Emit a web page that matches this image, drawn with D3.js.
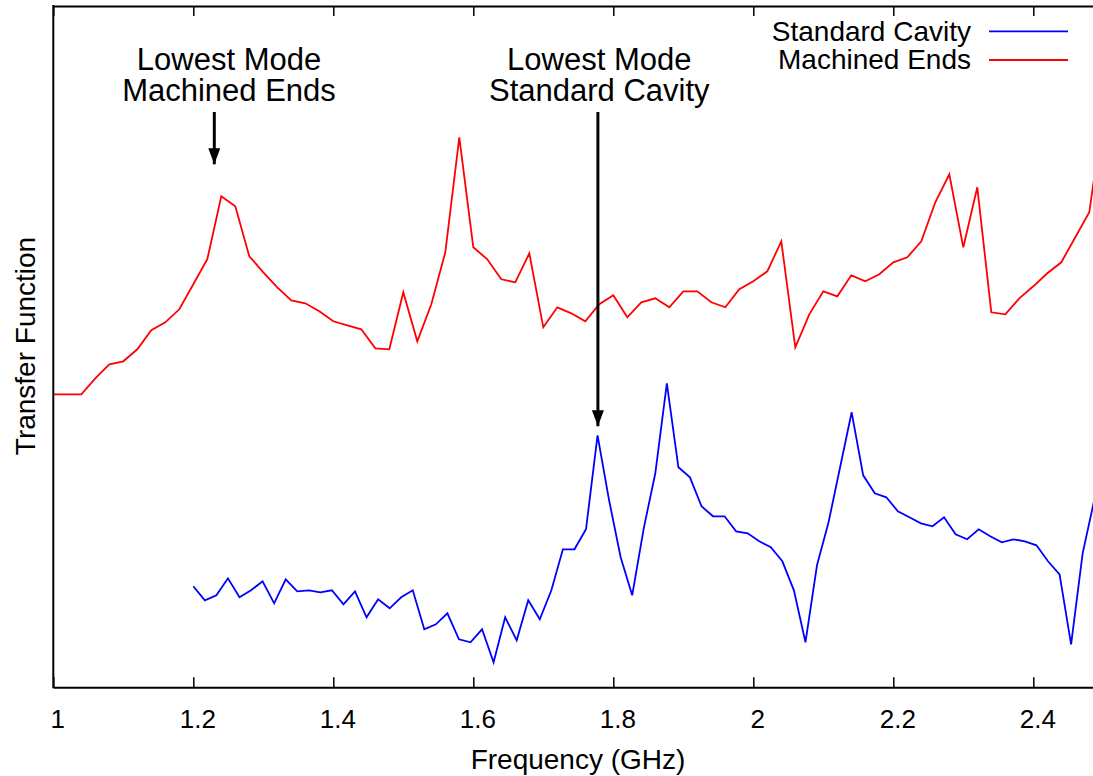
<!DOCTYPE html>
<html>
<head>
<meta charset="utf-8">
<script src="https://d3js.org/d3.v7.min.js"></script>
<style>
  body { margin: 0; background: #fff; }
  text { font-family: "Liberation Sans", Arial, sans-serif; fill: #000; }
</style>
</head>
<body>
<div class="chart"></div>
<script>
// frequency sweeps (GHz)
var machinedStart = 1.0, machinedStep = 0.02;
var standardStart = 1.2, standardStep = 0.0165;

// transfer function, arbitrary units
var machinedEnds = [293, 293, 293, 309, 323, 326, 338, 357, 365, 378,
  403, 428, 491, 481, 431, 415, 400, 387, 384, 376,
  366, 362, 358, 339, 338, 395, 346, 383, 435, 550,
  440, 428, 408, 405, 434, 360, 380, 374, 366, 383,
  392, 370, 385, 389, 380, 396, 396, 385, 380, 398,
  406, 416, 446, 340, 373, 396, 391, 412, 406, 413,
  425, 430, 446, 485, 513, 440, 500, 375, 373, 389,
  401, 414, 425, 450, 475, 575];

var standardCavity = [101, 87, 92, 109, 90, 97, 106, 84, 108, 96,
  97, 95, 97, 83, 96, 70, 88, 79, 90, 97,
  58, 63, 74, 48, 45, 58, 25, 70, 47, 87,
  68, 97, 138, 138, 158, 252, 187, 130, 92, 159,
  214, 304, 220, 210, 181, 171, 171, 156, 154, 146,
  140, 126, 97, 45, 122, 165, 220, 275, 212, 194,
  190, 176, 170, 164, 161, 170, 153, 148, 158, 151,
  145, 148, 146, 142, 126, 113, 43, 134, 187];

var xTicks = [1, 1.2, 1.4, 1.6, 1.8, 2, 2.2, 2.4];

var seriesNames = ["Standard Cavity", "Machined Ends"];
var seriesColors = ["#0000ff", "#ff0000"];

// label centre frequency, arrow frequency, arrow tip value
var annotations = [
  { lines: ["Lowest Mode", "Machined Ends"], labelFreq: 1.251, freq: 1.23, tipValue: 523 },
  { lines: ["Lowest Mode", "Standard Cavity"], labelFreq: 1.780, freq: 1.778, tipValue: 261 }
];

var svgWidth = 1093;
var svgHeight = 776;

var margin = { top: 6, left: 53.3, bottom: 88.7 };
var plotBottom = svgHeight - margin.bottom;

var svg = d3.select(".chart")
  .append("svg")
  .attr("width", svgWidth)
  .attr("height", svgHeight);

var xScale = d3.scaleLinear()
  .domain([1, 2.5])
  .range([margin.left, margin.left + 1050]);

var yScale = d3.scaleLinear()
  .domain([0, 681.3])
  .range([plotBottom, margin.top]);

svg.append("clipPath").attr("id", "plotClip")
  .append("rect")
  .attr("x", xScale(1)).attr("y", yScale(681.3))
  .attr("width", xScale(2.5) - xScale(1))
  .attr("height", yScale(0) - yScale(681.3));

// build point lists
var machinedData = machinedEnds.map(function(v, i) {
  return { f: machinedStart + i * machinedStep, v: v };
});
var standardData = standardCavity.map(function(v, i) {
  return { f: standardStart + i * standardStep, v: v };
});

var line = d3.line()
  .x(d => xScale(d.f))
  .y(d => yScale(d.v));

var curves = svg.append("g").attr("clip-path", "url(#plotClip)");

curves.append("path")
  .datum(machinedData)
  .attr("d", line)
  .attr("fill", "none")
  .attr("stroke", seriesColors[1])
  .attr("stroke-width", 1.8);

curves.append("path")
  .datum(standardData)
  .attr("d", line)
  .attr("fill", "none")
  .attr("stroke", seriesColors[0])
  .attr("stroke-width", 1.8);

// axes: ticks inside, mirrored on top
var bottomAxis = d3.axisBottom(xScale)
  .tickValues(xTicks)
  .tickSizeInner(-10)
  .tickSizeOuter(0)
  .tickPadding(22)
  .tickFormat(d3.format("~g"));

var gx = svg.append("g")
  .attr("transform", `translate(0, ${plotBottom})`)
  .call(bottomAxis);
gx.select(".domain").attr("stroke-width", 2);
gx.selectAll(".tick line").attr("stroke-width", 1.5);
gx.selectAll(".tick text")
  .style("font-size", "26px")
  .attr("dx", 4)
  .attr("fill", "#000");

var topAxis = d3.axisTop(xScale)
  .tickValues(xTicks)
  .tickSizeInner(-10)
  .tickSizeOuter(0)
  .tickFormat("");

var gt = svg.append("g")
  .attr("transform", `translate(0, ${margin.top})`)
  .call(topAxis);
gt.select(".domain").attr("stroke-width", 2);
gt.selectAll(".tick line").attr("stroke-width", 1.5);

svg.append("line")
  .attr("x1", xScale(1)).attr("x2", xScale(1))
  .attr("y1", yScale(0) + 1).attr("y2", yScale(681.3) - 1)
  .attr("stroke", "#000")
  .attr("stroke-width", 2);

// axis labels
svg.append("text")
  .attr("x", 578)
  .attr("y", 769)
  .attr("text-anchor", "middle")
  .style("font-size", "28px")
  .text("Frequency (GHz)");

svg.append("text")
  .attr("transform", "rotate(-90)")
  .attr("x", -346)
  .attr("y", 35)
  .attr("text-anchor", "middle")
  .style("font-size", "28px")
  .text("Transfer Function");

// annotations with arrows
svg.append("defs").append("marker")
  .attr("id", "arrowHead")
  .attr("viewBox", "0 0 16 12")
  .attr("refX", 16)
  .attr("refY", 6)
  .attr("markerWidth", 16)
  .attr("markerHeight", 12)
  .attr("markerUnits", "userSpaceOnUse")
  .attr("orient", "auto")
  .append("path")
  .attr("d", "M0,0 L16,6 L0,12 Z")
  .attr("fill", "#000");

annotations.forEach(function(a) {
  a.lines.forEach(function(s, i) {
    svg.append("text")
      .attr("x", xScale(a.labelFreq))
      .attr("y", 69.5 + i * 31.5)
      .attr("text-anchor", "middle")
      .style("font-size", "31px")
      .text(s);
  });
  svg.append("line")
    .attr("x1", xScale(a.freq)).attr("x2", xScale(a.freq))
    .attr("y1", 112).attr("y2", yScale(a.tipValue))
    .attr("stroke", "#000")
    .attr("stroke-width", 3)
    .attr("marker-end", "url(#arrowHead)");
});

// legend
var legend = svg.append("g");
seriesNames.forEach(function(name, i) {
  legend.append("text")
    .attr("x", 971)
    .attr("y", 40.5 + i * 28.7)
    .attr("text-anchor", "end")
    .style("font-size", "28px")
    .text(name);
  legend.append("line")
    .attr("x1", 989).attr("x2", 1068)
    .attr("y1", 31.3 + i * 28.7).attr("y2", 31.3 + i * 28.7)
    .attr("stroke", seriesColors[i])
    .attr("stroke-width", 1.8);
});
</script>
</body>
</html>
